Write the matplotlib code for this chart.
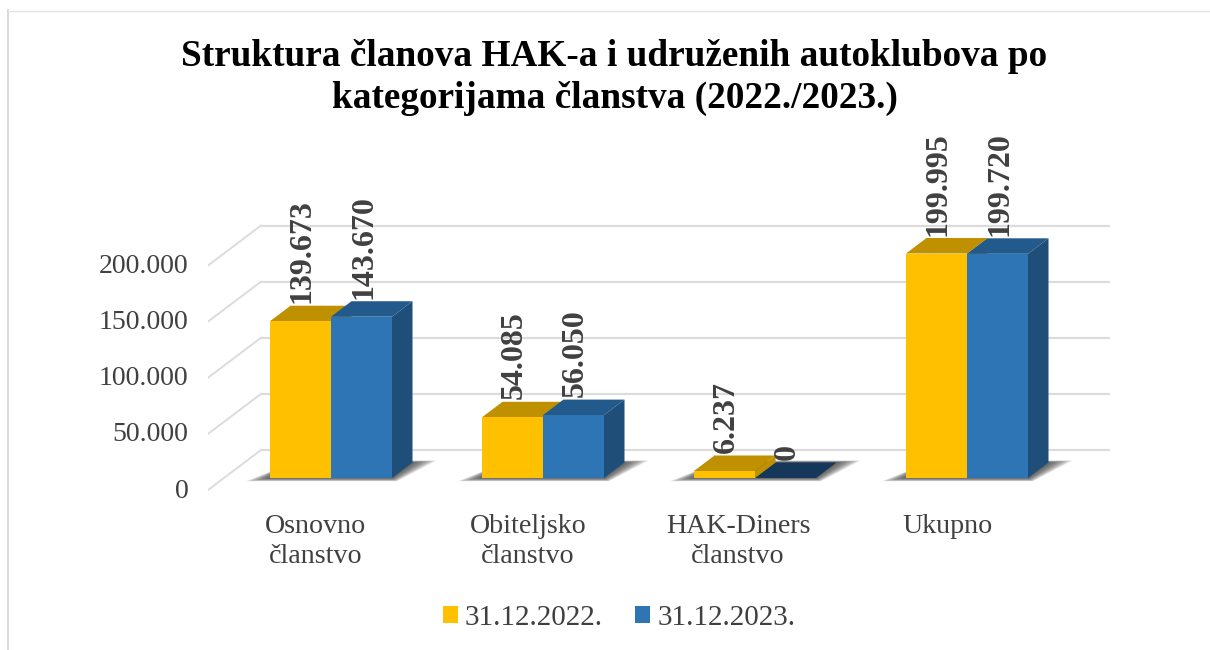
import matplotlib
matplotlib.use('Agg')
import matplotlib.pyplot as plt
from matplotlib.lines import Line2D
from matplotlib.patches import Patch, Polygon
from matplotlib.transforms import ScaledTranslation

plt.rcParams['font.family'] = ['Liberation Serif', 'DejaVu Serif']

# ---------------------------------------------------------------------------
# Data
# ---------------------------------------------------------------------------
categories = ['Osnovno\nčlanstvo', 'Obiteljsko\nčlanstvo', 'HAK-Diners\nčlanstvo', 'Ukupno']
values_2022 = [139673, 54085, 6237, 199995]
values_2023 = [143670, 56050, 0, 199720]
labels_2022 = ['139.673', '54.085', '6.237', '199.995']
labels_2023 = ['143.670', '56.050', '0', '199.720']
y_ticks = [0, 50000, 100000, 150000, 200000]
y_tick_labels = ['0', '50.000', '100.000', '150.000', '200.000']
series_names = ['31.12.2022.', '31.12.2023.']

# ---------------------------------------------------------------------------
# Geometry (picture is 1210x650, axes box given in pixels)
# ---------------------------------------------------------------------------
W, H = 1210, 650
BOX_L, BOX_R, BOX_T, BOX_B = 208, 1112, 205, 500
BASE_PX = 478            # pixel row of value 0 on the bar front
PX_PER_VAL = 224.5 / 200000
CAT_STEP = 212           # pixels between groups
CAT0_PX = 331            # pixel column of first group centre
BAR_W = 61 / CAT_STEP
CAT_SHIFT_PX = [-15, -15, -17, -20]   # labels sit left of the bar groups

def dxp(px):
    return px / CAT_STEP

def dyp(px):
    return px / PX_PER_VAL

DX, DY = dxp(20.5), dyp(15.5)

YELLOW = ('#FFC000', '#BF9000', '#BF9000')
BLUE = ('#2E75B6', '#225A8C', '#1F4E79')
ZERO_TOP = '#14375A'
GRID = '#DCDCDC'
TEXT = '#404040'

fig = plt.figure(figsize=(W / 100, H / 100), dpi=100)
ax = fig.add_axes([BOX_L / W, 1 - BOX_B / H, (BOX_R - BOX_L) / W, (BOX_B - BOX_T) / H])
ax.set_xlim((BOX_L - CAT0_PX) / CAT_STEP, (BOX_R - CAT0_PX) / CAT_STEP)
ax.set_ylim((BASE_PX - BOX_B) / PX_PER_VAL, (BASE_PX - BOX_T) / PX_PER_VAL)
for s in ax.spines.values():
    s.set_visible(False)

# back wall gridlines and floor diagonals
x_front = (208 - CAT0_PX) / CAT_STEP
x_back = (261 - CAT0_PX) / CAT_STEP
for v in y_ticks:
    ax.plot([x_back, (1110 - CAT0_PX) / CAT_STEP], [v + dyp(28), v + dyp(28)],
            color=GRID, lw=1.6, zorder=0, solid_capstyle='butt')
    ax.plot([x_front, x_back], [v - dyp(12), v + dyp(28)],
            color=GRID, lw=1.4, zorder=0)

# soft floor shadows
for i in range(len(categories)):
    x0, x1 = i - BAR_W, i + BAR_W
    for k in range(12):
        g = dxp(2.2 * (11 - k))
        h = dyp(0.3 * (11 - k))
        ax.add_patch(Polygon([(x0 - g, -h), (x1 + g * 0.2, -h),
                              (x1 + DX + g, DY + h * 0.6), (x0 + DX + g * 0.3, DY + h * 0.6)],
                             closed=True, fc='#333333', ec='none', alpha=0.11, zorder=0.5))


def draw_bar(x, v, cols, z):
    left, right = x - BAR_W / 2, x + BAR_W / 2
    ax.add_patch(Polygon([(left, v), (right, v), (right + DX, v + DY), (left + DX, v + DY)],
                         closed=True, fc=cols[1], ec='none', zorder=z))
    ax.add_patch(Polygon([(right, 0), (right + DX, DY), (right + DX, v + DY), (right, v)],
                         closed=True, fc=cols[2], ec='none', zorder=z))


for i in range(len(categories)):
    v_a, v_b = values_2022[i], values_2023[i]
    x_a, x_b = i - BAR_W / 2, i + BAR_W / 2

    if v_b == 0:
        draw_bar(x_b, v_b, (BLUE[0], ZERO_TOP, ZERO_TOP), 1)
    else:
        draw_bar(x_b, v_b, BLUE, 3)
    draw_bar(x_a, v_a, YELLOW, 2)

    ax.bar(x_a, v_a, BAR_W, color=YELLOW[0], zorder=4)
    ax.bar(x_b, v_b, BAR_W, color=BLUE[0], zorder=4)

    for x, v, lab in [(x_a, v_a, labels_2022[i]), (x_b, v_b, labels_2023[i])]:
        ax.annotate(lab, (x, v), xytext=(2, 18), textcoords='offset pixels',
                    rotation=90, ha='center', va='bottom', fontsize=23,
                    fontweight='bold', color=TEXT, annotation_clip=False, zorder=6)

# ticks
ax.set_yticks(y_ticks)
ax.set_yticklabels(y_tick_labels, fontsize=20, color=TEXT)
ax.tick_params(axis='y', length=0, pad=14)
for lab in ax.get_yticklabels():
    lab.set_transform(lab.get_transform() + ScaledTranslation(0, -10 / 100, fig.dpi_scale_trans))

ax.set_xticks(range(len(categories)))
ax.set_xticklabels(categories, fontsize=20.2, color=TEXT, linespacing=1.27)
ax.tick_params(axis='x', length=0, pad=10)
for lab, shift in zip(ax.get_xticklabels(), CAT_SHIFT_PX):
    lab.set_transform(lab.get_transform() + ScaledTranslation(shift / 100, 0, fig.dpi_scale_trans))

fig.text(614.5 / W, 1 - 77.5 / H,
         'Struktura članova HAK-a i udruženih autoklubova po\nkategorijama članstva (2022./2023.)',
         ha='center', va='center', fontsize=26.8, fontweight='bold', color='black', linespacing=1.22)

handles = [Patch(fc=YELLOW[0], ec='none'), Patch(fc=BLUE[0], ec='none')]
fig.legend(handles, series_names, ncols=2, loc='center', bbox_to_anchor=(619 / W, 1 - 618 / H),
           frameon=False, fontsize=21, labelcolor=TEXT, handlelength=0.52, handleheight=0.52,
           handletextpad=0.24, columnspacing=1.1, borderpad=0)

# outer border of the pasted chart
fig.add_artist(Line2D([7.5 / W, 7.5 / W], [0, 1 - 10 / H], color='#D9D9D9', lw=1.4))
fig.add_artist(Line2D([7.5 / W, 1], [1 - 10.5 / H, 1 - 10.5 / H], color='#E4E4E4', lw=1))

fig.savefig('out.png', dpi=100)
